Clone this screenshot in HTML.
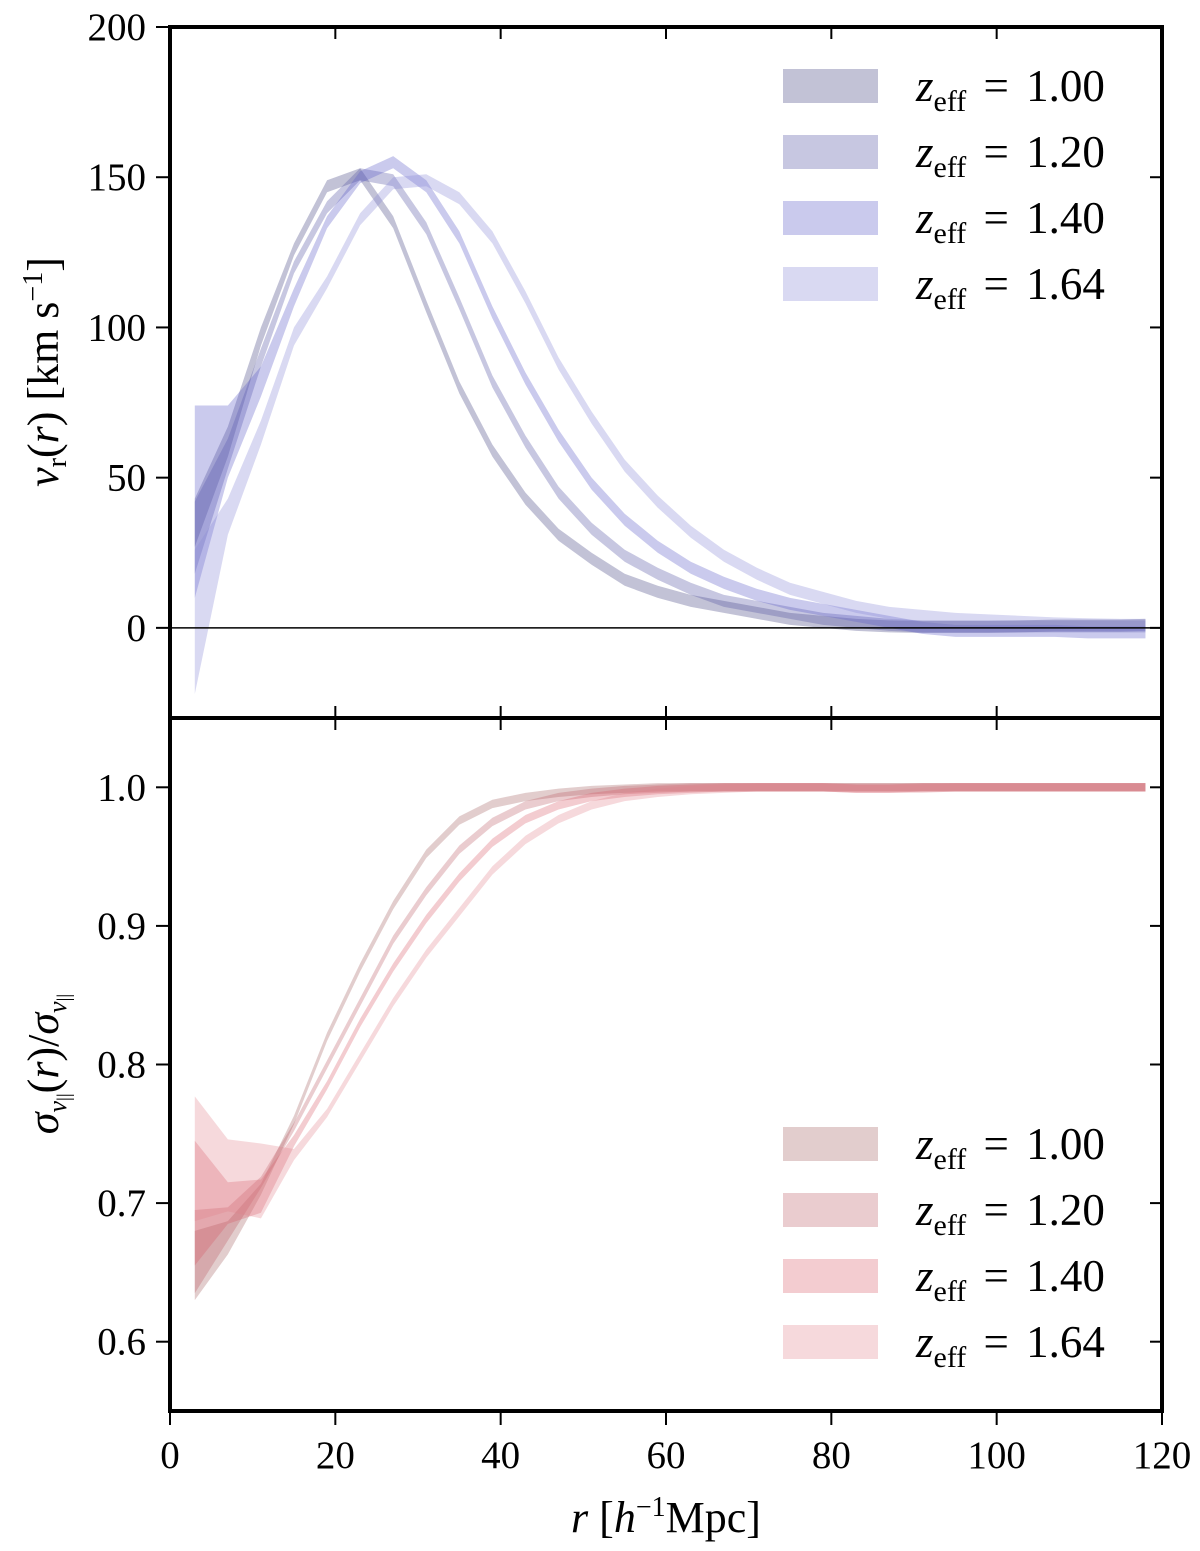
<!DOCTYPE html>
<html><head><meta charset="utf-8"><style>
body{margin:0;background:#fff}
svg{display:block;font-family:"Liberation Serif",serif}
</style></head><body>
<svg id="c" width="1200" height="1551" viewBox="0 0 1200 1551"></svg>
<script>
const rVals=[3,7,11,15,19,23,27,31,35,39,43,47,51,55,59,63,67,71,75,79,83,87,91,95,99,103,107,111,115,118];
const zLabels=["1.00","1.20","1.40","1.64"];
const vr100=[35,62,97,126,147,151,135,107,80,59,43,31,23,16,12,9,7,5,3,2,1,0.5,0.3,0.3,0.3,0.5,0.8,0.8,0.8,1];
const vr120=[30,58,90,120,140,151,149,133,108,82,62,45,33,24,18,13,9,7,5,3,2,1,0.5,0.5,0.5,0.5,0.5,0.5,0.5,0.5];
const vr140=[42,62,82,110,135,150,155,147,130,105,83,64,48,36,27,20,15,11,8,6,4,2,0,-1,-1,-1,-1,-1.5,-1.5,-1.5];
const vr164=[2,37,65,97,115,136,148,149,143,130,110,88,70,54,42,32,24,18,13,10,7,5,4,3,2.5,2,1.5,1.2,1,1];
const vrErr100=[8,5,3,2,2,2,2,2,2,2,2,2,2,2,2,2,2,2,2,2,2,2,2,2,2,2,2,2,2,2];
const vrErr120=[12,5,3,2,2,2,2,2,2,2,2,2,2,2,2,2,2,2,2,2,2,2,2,2,2,2,2,2,2,2];
const vrErr140=[32,12,5,3,2,2,2,2,2,2,2,2,2,2,2,2,2,2,2,2,2,2,2,2,2,2,2,2,2,2];
const vrErr164=[24,6,4,3,2,2,2,2,2,2,2,2,2,2,2,2,2,2,2,2,2,2,2,2,2,2,2,2,2,2];
const sg100=[0.655,0.675,0.71,0.76,0.82,0.87,0.915,0.952,0.976,0.988,0.993,0.996,0.998,0.999,1,1,1,1,1,1,1,1,1,1,1,1,1,1,1,1];
const sg120=[0.665,0.685,0.715,0.755,0.80,0.845,0.89,0.925,0.955,0.975,0.987,0.993,0.996,0.998,0.999,1,1,1,1,1,1,1,1,1,1,1,1,1,1,1];
const sg140=[0.70,0.70,0.705,0.745,0.785,0.83,0.87,0.905,0.935,0.96,0.977,0.987,0.993,0.996,0.998,0.999,1,1,1,1,0.999,0.999,1,1,1,1,1,1,1,1];
const sg164=[0.732,0.72,0.716,0.735,0.765,0.805,0.845,0.88,0.91,0.94,0.962,0.977,0.987,0.993,0.996,0.998,0.999,1,1,1,0.999,0.999,0.999,1,1,1,1,1,1,1];
const sgErr100=[0.025,0.012,0.004,0.003,0.003,0.003,0.003,0.003,0.003,0.003,0.003,0.003,0.003,0.003,0.003,0.003,0.003,0.003,0.003,0.003,0.003,0.003,0.003,0.003,0.003,0.003,0.003,0.003,0.003,0.003];
const sgErr120=[0.03,0.012,0.004,0.003,0.003,0.003,0.003,0.003,0.003,0.003,0.003,0.003,0.003,0.003,0.003,0.003,0.003,0.003,0.003,0.003,0.003,0.003,0.003,0.003,0.003,0.003,0.003,0.003,0.003,0.003];
const sgErr140=[0.045,0.015,0.012,0.004,0.003,0.003,0.003,0.003,0.003,0.003,0.003,0.003,0.003,0.003,0.003,0.003,0.003,0.003,0.003,0.003,0.003,0.003,0.003,0.003,0.003,0.003,0.003,0.003,0.003,0.003];
const sgErr164=[0.045,0.026,0.027,0.004,0.003,0.003,0.003,0.003,0.003,0.003,0.003,0.003,0.003,0.003,0.003,0.003,0.003,0.003,0.003,0.003,0.003,0.003,0.003,0.003,0.003,0.003,0.003,0.003,0.003,0.003];
const xTicks=[0,20,40,60,80,100,120];
const topTicks=[0,50,100,150,200];
const botTicks=[0.6,0.7,0.8,0.9,1.0];

const NS="http://www.w3.org/2000/svg";
const svg=document.getElementById('c');
function mk(tag,attrs,parent){const e=document.createElementNS(NS,tag);for(const k in attrs)e.setAttribute(k,attrs[k]);(parent||svg).appendChild(e);return e;}
const X0=170,X1=1162;
const xs=v=>X0+(v-0)/(120-0)*(X1-X0);
const T0=27,T1=718,B0=718,B1=1411;
const ysTop=v=>T1-(v-(-30))/(200-(-30))*(T1-T0);
const ysBot=v=>B1-(v-0.55)/(1.05-0.55)*(B1-B0);

function band(vals,errs,ys,color,op,name){
  let up=[],lo=[];
  for(let i=0;i<rVals.length;i++){up.push(xs(rVals[i])+','+ys(vals[i]+errs[i]));lo.unshift(xs(rVals[i])+','+ys(vals[i]-errs[i]));}
  const p=mk('polygon',{points:up.concat(lo).join(' '),fill:color,'fill-opacity':op});
  
  
}
const blues=["rgb(70,70,130)","rgb(85,85,165)","rgb(95,95,200)","rgb(140,140,215)"];
const reds=["rgb(160,90,90)","rgb(185,85,95)","rgb(215,85,100)","rgb(225,130,140)"];
const topSeries=[vr100,vr120,vr140,vr164],topErr=[vrErr100,vrErr120,vrErr140,vrErr164];
const botSeries=[sg100,sg120,sg140,sg164],botErr=[sgErr100,sgErr120,sgErr140,sgErr164];
for(let s=0;s<4;s++)band(topSeries[s],topErr[s],ysTop,blues[s],0.33,'vr-band-z'+zLabels[s]);
const zl=mk('line',{x1:X0,x2:X1,y1:ysTop(0),y2:ysTop(0),stroke:'#000','stroke-width':1.5});

for(let s=0;s<4;s++)band(botSeries[s],botErr[s],ysBot,reds[s],0.3,'sigma-band-z'+zLabels[s]);

function txt(x,y,s,attrs,name){const t=mk('text',Object.assign({x:x,y:y,'font-size':39},attrs||{}));t.textContent=s;return t;}
for(const [a,b,n] of [[T0,T1,'top-panel-frame'],[B0,B1,'bottom-panel-frame']]){
  const r=mk('rect',{x:X0,y:a,width:X1-X0,height:b-a,fill:'none',stroke:'#000','stroke-width':4});
  
}
topTicks.forEach(v=>{const y=ysTop(v);mk('line',{x1:X0-14,x2:X0,y1:y,y2:y,stroke:'#000','stroke-width':2});mk('line',{x1:X1-12,x2:X1,y1:y,y2:y,stroke:'#000','stroke-width':2});txt(X0-24,y+13,String(v),{'text-anchor':'end'},'y-tick-label-top');});
botTicks.forEach(v=>{const y=ysBot(v);mk('line',{x1:X0-14,x2:X0,y1:y,y2:y,stroke:'#000','stroke-width':2});mk('line',{x1:X1-12,x2:X1,y1:y,y2:y,stroke:'#000','stroke-width':2});txt(X0-24,y+13,v.toFixed(1),{'text-anchor':'end'},'y-tick-label-bottom');});
xTicks.forEach(v=>{const x=xs(v);
  mk('line',{x1:x,x2:x,y1:B1,y2:B1+14,stroke:'#000','stroke-width':2});
  mk('line',{x1:x,x2:x,y1:B0,y2:B0+12,stroke:'#000','stroke-width':2});
  mk('line',{x1:x,x2:x,y1:T1-12,y2:T1,stroke:'#000','stroke-width':2});
  mk('line',{x1:x,x2:x,y1:T0,y2:T0+12,stroke:'#000','stroke-width':2});
  txt(x,1468,String(v),{'text-anchor':'middle'},'x-tick-label');});
const xt=mk('text',{x:666,y:1532,'font-size':44,'text-anchor':'middle'});xt.innerHTML='<tspan font-style="italic">r</tspan> [<tspan font-style="italic">h</tspan><tspan dy="-16" font-size="28">−1</tspan><tspan dy="16">Mpc]</tspan>';

const yt=mk('text',{x:0,y:0,'font-size':44,'text-anchor':'middle',transform:'translate(58,372) rotate(-90)'});yt.innerHTML='<tspan font-style="italic">v</tspan><tspan font-size="28" dy="8">r</tspan><tspan dy="-8">(<tspan font-style="italic">r</tspan>) [km s</tspan><tspan dy="-16" font-size="28">−1</tspan><tspan dy="16">]</tspan>';

const yb=mk('text',{x:0,y:0,'font-size':44,'text-anchor':'middle',transform:'translate(58,1064) rotate(-90)'});yb.innerHTML='<tspan font-style="italic">σ</tspan><tspan font-size="26" dy="8" font-style="italic">v</tspan><tspan font-size="19" dy="4">||</tspan><tspan dy="-12">(<tspan font-style="italic">r</tspan>)/<tspan font-style="italic">σ</tspan></tspan><tspan font-size="26" dy="8" font-style="italic">v</tspan><tspan font-size="19" dy="4">||</tspan>';

function legend(y0,colors,op,prefix){
  for(let i=0;i<4;i++){const y=y0+i*66;
    const r=mk('rect',{x:783,y:y-17,width:95,height:34,fill:colors[i],'fill-opacity':op});
    
    const t=mk('text',{x:916,y:y+15,'font-size':45});
    t.innerHTML='<tspan font-style="italic">z</tspan><tspan font-size="30" dy="10">eff</tspan><tspan dy="-10"> <tspan dx="6">=</tspan> <tspan dx="6">'+zLabels[i]+'</tspan></tspan>';
    
  }
}
legend(86,blues,0.33,'top');
legend(1144,reds,0.3,'bottom');
</script>
</body></html>
